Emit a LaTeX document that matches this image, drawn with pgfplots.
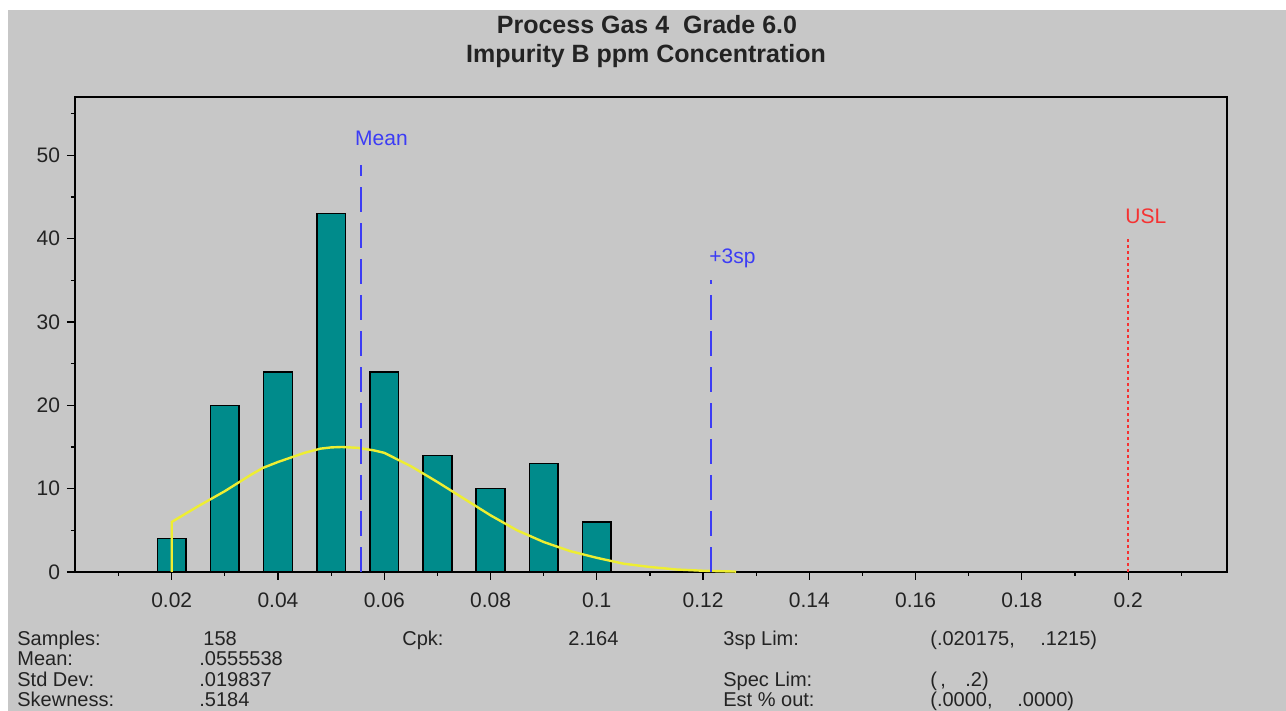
\documentclass[border=0pt]{standalone}
\usepackage{pgfplots}
\pgfplotsset{compat=1.18}
\usepackage{fontspec}
\setmainfont{Liberation Sans}
\definecolor{bg}{RGB}{199,199,199}
\definecolor{teal2}{RGB}{0,139,139}
\definecolor{yel}{RGB}{238,238,50}
\definecolor{blu}{RGB}{60,60,245}
\definecolor{rd}{RGB}{245,50,50}
\definecolor{txt}{RGB}{35,35,35}
\begin{document}
\begin{tikzpicture}
\useasboundingbox (0,0) rectangle (643pt,355.5pt);
\fill[white] (0,0) rectangle (643pt,355.5pt);
\fill[bg] (4pt,0) rectangle (643pt,350.5pt);
\node[font=\fontsize{12.5}{14}\selectfont\bfseries, text=txt] at (323.5pt,343.2pt) {Process Gas 4\ \ Grade 6.0};
\node[font=\fontsize{12.5}{14}\selectfont\bfseries, text=txt] at (323pt,327.6pt) {Impurity B ppm Concentration};
\begin{axis}[
  at={(37.5pt,69.5pt)}, anchor=south west,
  scale only axis, width=576pt, height=237.5pt,
  xmin=0.0018, xmax=0.2186, ymin=0, ymax=57,
  axis line style={black, line width=0.8pt},
  tick pos=left, tick align=outside,
  major tick length=4pt, minor tick length=2pt,
  tick style={black, line width=0.6pt},
  xtick={0.02,0.04,0.06,0.08,0.1,0.12,0.14,0.16,0.18,0.2},
  xticklabels={0.02,0.04,0.06,0.08,0.1,0.12,0.14,0.16,0.18,0.2},
  minor xtick={0.01,0.03,0.05,0.07,0.09,0.11,0.13,0.15,0.17,0.19,0.21},
  ytick={0,10,20,30,40,50},
  minor ytick={5,15,25,35,45,55},
  /pgf/number format/assume math mode=true,
  ticklabel style={font=\fontsize{10.5}{12}\selectfont, text=txt},
  xticklabel style={yshift=-3pt},
  clip=false,
]
\addplot[ybar, bar width=0.0054, fill=teal2, draw=black, line width=0.8pt] coordinates {
(0.02,4) (0.03,20) (0.04,24) (0.05,43) (0.06,24) (0.07,14) (0.08,10) (0.09,13) (0.1,6)};
\addplot[yel, line width=1.2pt] coordinates {
(0.02,0) (0.02,6.0) (0.025,7.9) (0.03,9.7) (0.035,11.7) (0.0372,12.5) (0.04,13.2) (0.045,14.3) (0.048,14.8) (0.05,14.95) (0.052,15.0) (0.055,14.9) (0.058,14.6) (0.06,14.3) (0.065,12.7) (0.07,10.8) (0.075,8.8) (0.08,6.8) (0.085,5.0) (0.09,3.6) (0.095,2.5) (0.1,1.7) (0.105,1.0) (0.11,0.6) (0.115,0.3) (0.12,0.15) (0.1262,0.05)};
\addplot[blu, line width=1pt, dash pattern=on 12.5pt off 5.5pt] coordinates {(0.0555538,0) (0.0555538,48.8)};
\addplot[blu, line width=1pt, dash pattern=on 12.5pt off 5.5pt] coordinates {(0.1215,0) (0.1215,35)};
\addplot[rd, line width=0.9pt, dash pattern=on 1.5pt off 1.5pt] coordinates {(0.2,0) (0.2,40.3)};
\node[anchor=base west, inner sep=0, text=blu, font=\fontsize{10.5}{12}\selectfont] at (axis cs:0.05446,51.2) {Mean};
\node[anchor=base west, inner sep=0, text=blu, font=\fontsize{10.5}{12}\selectfont] at (axis cs:0.1211,37.05) {+3sp};
\node[anchor=base west, inner sep=0, text=rd, font=\fontsize{10.5}{12}\selectfont] at (axis cs:0.1994,41.8) {USL};
\end{axis}
\begin{scope}[every node/.style={anchor=base west, inner sep=0, text=txt, font=\fontsize{10}{12}\selectfont}]
\node at (8.5pt,32.5pt) {Samples:};
\node at (8.5pt,22.5pt) {Mean:};
\node at (8.5pt,12pt) {Std Dev:};
\node at (8.5pt,2pt) {Skewness:};
\node at (101.5pt,32.5pt) {158};
\node at (99.5pt,22.5pt) {.0555538};
\node at (99.5pt,12pt) {.019837};
\node at (99.5pt,2pt) {.5184};
\node at (201pt,32.5pt) {Cpk:};
\node at (284pt,32.5pt) {2.164};
\node at (361.5pt,32.5pt) {3sp Lim:};
\node at (361.5pt,12pt) {Spec Lim:};
\node at (361.5pt,2pt) {Est \% out:};
\node at (465pt,32.5pt) {(.020175,};
\node at (520pt,32.5pt) {.1215)};
\node at (465pt,12pt) {(};
\node at (470pt,12pt) {,};
\node at (482.5pt,12pt) {.2)};
\node at (465pt,2pt) {(.0000,};
\node at (508.5pt,2pt) {.0000)};
\end{scope}
\end{tikzpicture}
\end{document}
